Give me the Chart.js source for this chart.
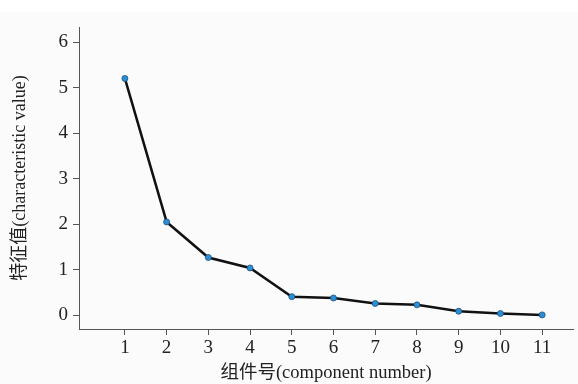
<!DOCTYPE html>
<html>
<head>
<meta charset="utf-8">
<script src="https://cdn.jsdelivr.net/npm/chart.js@4.4.1/dist/chart.umd.min.js"></script>
<style>
  html, body { margin: 0; padding: 0; background: #fff; }
  #wrap { width: 578px; height: 384px; }
</style>
</head>
<body>
<div id="wrap"><canvas id="scree" width="578" height="384"></canvas></div>
<script>
// Datos del gráfico de sedimentación
const components = [1, 2, 3, 4, 5, 6, 7, 8, 9, 10, 11];
const eigenvalues = [5.2, 2.05, 1.27, 1.04, 0.41, 0.38, 0.26, 0.23, 0.09, 0.04, 0.01];
const yTicks = [0, 1, 2, 3, 4, 5, 6];
const xTitle = "组件号(component number)";
const yTitle = "特征值(characteristic value)";

const serif = "'Liberation Serif', 'Noto Sans CJK SC', serif";
const axisColor = "#555";

// Fondo gris claro
const bgPlugin = {
    id: 'bg',
    beforeDraw(chart) {
        const c = chart.ctx;
        c.save();
        c.fillStyle = "#fbfbfb";
        c.fillRect(0, 12, chart.width, chart.height - 12);
        c.restore();
    }
};

const ctx = document.getElementById('scree').getContext('2d');
new Chart(ctx, {
    type: 'line',
    data: {
        datasets: [{
            data: components.map((c, i) => ({ x: c, y: eigenvalues[i] })),
            borderColor: '#111',
            borderWidth: 2.5,
            pointRadius: 3,
            pointBackgroundColor: '#2b8fd8',
            pointBorderColor: '#1a4f7a',
            pointBorderWidth: 0.8,
            tension: 0
        }]
    },
    options: {
        responsive: false,
        animation: false,
        layout: { padding: { top: 27, right: 5, left: 0, bottom: 0 } },
        plugins: { legend: { display: false }, tooltip: { enabled: false } },
        scales: {
            x: {
                type: 'linear',
                min: -0.1,
                max: 11.74,
                afterBuildTicks: (s) => { s.ticks = components.map(v => ({ value: v })); },
                afterFit: (s) => { s.height = 55; },
                grid: { drawOnChartArea: false, tickLength: 6, color: axisColor },
                border: { display: true, color: axisColor, width: 1 },
                ticks: { color: '#222', font: { family: serif, size: 19 }, padding: 2, maxRotation: 0 },
                title: { display: true, text: xTitle, color: '#222', font: { family: serif, size: 18.5 }, padding: { top: 0, bottom: 0 } }
            },
            y: {
                min: -0.3,
                max: 6.33,
                afterBuildTicks: (s) => { s.ticks = yTicks.map(v => ({ value: v })); },
                afterFit: (s) => { s.width = 79; },
                grid: { drawOnChartArea: false, tickLength: 6, color: axisColor },
                border: { display: true, color: axisColor, width: 1 },
                ticks: { color: '#222', font: { family: serif, size: 19 }, padding: 5 },
                title: { display: true, text: yTitle, color: '#222', font: { family: serif, size: 18 }, padding: { top: 9, bottom: 0 } }
            }
        }
    },
    plugins: [bgPlugin]
});
</script>
</body>
</html>
